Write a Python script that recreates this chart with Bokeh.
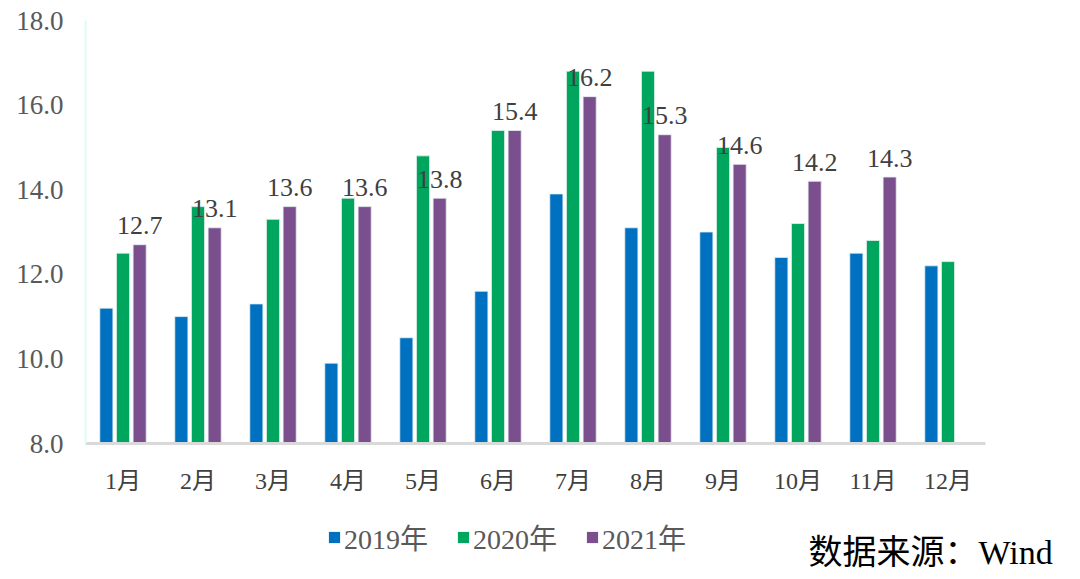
from bokeh.plotting import figure
from bokeh.models import (ColumnDataSource, FactorRange, Range1d, Legend, LegendItem,
                          Label, FixedTicker, PrintfTickFormatter)
from bokeh.layouts import column
from bokeh.transform import dodge
from bokeh.core.properties import value
from bokeh.embed import file_html
from bokeh.resources import INLINE

months = ["1月", "2月", "3月", "4月", "5月", "6月", "7月", "8月", "9月", "10月", "11月", "12月"]
v2019 = [11.2, 11.0, 11.3, 9.9, 10.5, 11.6, 13.9, 13.1, 13.0, 12.4, 12.5, 12.2]
v2020 = [12.5, 13.6, 13.3, 13.8, 14.8, 15.4, 16.8, 16.8, 15.0, 13.2, 12.8, 12.3]
v2021 = [12.7, 13.1, 13.6, 13.6, 13.8, 15.4, 16.2, 15.3, 14.6, 14.2, 14.3, float("nan")]
series_names = ["2019年", "2020年", "2021年"]
colors = ["#0070C0", "#00A65D", "#7B4F8E"]
y_ticks = [8, 10, 12, 14, 16, 18]
source_text = "数据来源：Wind"

FONT = "Liberation Serif, Noto Sans CJK SC"
W = 1078

labels21 = ["" if v != v else f"{v:.1f}" for v in v2021]
src = ColumnDataSource(dict(month=months, a=v2019, b=v2020, c=v2021, lab=labels21))

p = figure(width=W, height=505, x_range=FactorRange(*months), y_range=Range1d(8, 18),
           output_backend="svg", toolbar_location=None,
           min_border_left=85, min_border_right=W - 985, min_border_top=20, min_border_bottom=62)
p.frame_align = False
p.outline_line_color = None
p.xgrid.grid_line_color = None
p.ygrid.grid_line_color = None

off = 0.222
bw = 0.175
renderers = []
for col, dx, c in zip(["a", "b", "c"], [-off, 0, off], colors):
    r = p.vbar(x=dodge("month", dx, range=p.x_range), top=col, bottom=8, width=bw,
               source=src, fill_color=c, line_color="#E6F0F0", line_width=0.8)
    renderers.append(r)

p.text(x=dodge("month", off, range=p.x_range), y="c", text="lab", source=src,
       text_align="center", text_baseline="alphabetic", y_offset=-19,
       text_font=value(FONT), text_font_size="26px", text_color="#404040")

p.yaxis.ticker = FixedTicker(ticks=y_ticks)
p.yaxis.formatter = PrintfTickFormatter(format="%.1f")
p.yaxis.major_label_text_font = FONT
p.yaxis.major_label_text_font_size = "27px"
p.yaxis.major_label_text_color = "#595959"
p.yaxis.major_tick_line_color = None
p.yaxis.minor_tick_line_color = None
p.yaxis.axis_line_color = "#DDFBEF"
p.yaxis.axis_line_width = 2
p.yaxis.major_label_standoff = 16

p.xaxis.major_label_text_font = FONT
p.xaxis.major_label_text_font_size = "24px"
p.xaxis.major_label_text_color = "#404040"
p.xaxis.major_tick_line_color = None
p.xaxis.minor_tick_line_color = None
p.xaxis.axis_line_color = "#D9D9D9"
p.xaxis.axis_line_width = 3
p.xaxis.major_label_standoff = 18

# bottom strip: legend + source note
H2 = 71
p2 = figure(width=W, height=H2, x_range=Range1d(0, W), y_range=Range1d(0, H2),
            output_backend="svg", toolbar_location=None,
            min_border=0, min_border_left=0, min_border_right=0, min_border_top=0, min_border_bottom=0)
p2.frame_align = False
p2.axis.visible = False
p2.grid.visible = False
p2.outline_line_color = None
leg_r = []
for c in colors:
    # legend proxy glyphs, placed outside the visible range
    leg_r.append(p2.vbar(x=[-50], top=[-50], bottom=[-60], width=1, fill_color=c, line_color=None))
items = [LegendItem(label=n, renderers=[r]) for n, r in zip(series_names, leg_r)]
legend = Legend(items=items, orientation="horizontal", location=(327, 19),
                glyph_width=14, glyph_height=14, label_standoff=3, spacing=28,
                padding=0, margin=0, border_line_color=None, background_fill_alpha=0,
                label_text_font=FONT, label_text_font_size="28px", label_text_color="#595959",
                label_height=28)
p2.add_layout(legend, "center")
p2.add_layout(Label(x=808, y=24, x_units="screen", y_units="screen", text=source_text,
                    text_font=FONT, text_font_size="34px", text_color="#000000",
                    text_baseline="middle"))

layout = column(p, p2, spacing=0)
open("out.html", "w").write(file_html(layout, INLINE))
